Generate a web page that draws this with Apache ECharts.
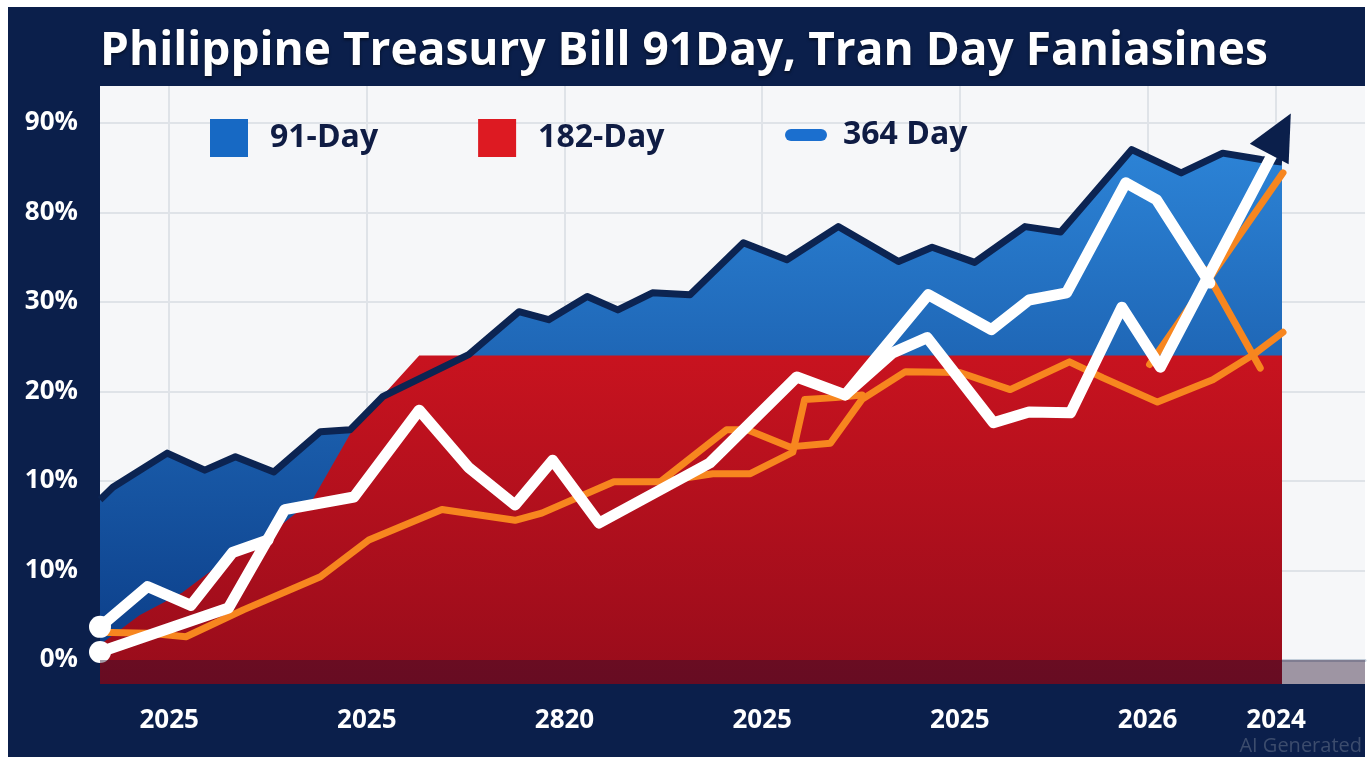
<!DOCTYPE html>
<html>
<head>
<meta charset="utf-8">
<title>Philippine Treasury Bill</title>
<script src="https://cdn.jsdelivr.net/npm/echarts@6/dist/echarts.min.js"></script>
<style>
html, body { margin: 0; padding: 0; background: #fff; }
#chart { width: 1368px; height: 768px; }
</style>
</head>
<body>
<div id="chart"></div>
<script>
// tick labels exactly as printed on the picture
var yTicks = [0, 10, 20, 30, 40, 50, 60];
var yLabels = ['0%', '10%', '10%', '20%', '30%', '80%', '90%'];
var xTicks = [7, 27, 47, 67, 87, 106, 119];
var xLabels = ['2025', '2025', '2820', '2025', '2025', '2026', '2024'];

// [month, value]
var day91 = [[0,17.9],[1.3,19.3],[6.8,23.1],[10.6,21.2],[13.7,22.7],[17.6,21.0],[22.3,25.5],[25.3,25.7],[28.6,29.4],[37.3,34.1],[42.4,38.9],[45.4,38.0],[49.3,40.6],[52.4,39.1],[55.9,41.0],[59.7,40.8],[65.1,46.6],[69.5,44.7],[74.7,48.4],[80.8,44.5],[84.2,46.1],[88.5,44.4],[93.6,48.4],[97.2,47.8],[104.4,57.0],[109.4,54.4],[113.6,56.6],[117.5,55.9],[119.6,55.6]];
var day182 = [[0,1.7],[4.0,5.0],[8.3,7.5],[13.7,12.0],[16.8,13.7],[21.5,17.9],[25.7,26.0],[32.3,34.0],[119.6,34.0]];
var orangeA = [[0,3.1],[4.8,3.0],[8.7,2.6],[14.5,5.6],[22.3,9.3],[27.2,13.4],[34.6,16.8],[42.0,15.6],[44.7,16.4],[52.0,19.9],[56.7,19.9],[63.4,25.7],[65.5,25.7],[69.8,23.8],[73.9,24.2],[77.1,29.1],[81.5,32.2],[87.0,32.1],[92.1,30.2],[98.1,33.3],[101.5,31.5],[107.0,28.8],[112.6,31.3],[116.7,34.1],[119.7,36.6]];
var orangeB = [[56.7,19.9],[62.0,20.8],[65.8,20.8],[70.1,23.2],[71.3,29.1],[74.4,29.3],[77.1,29.6]];
var orangeC = [[106.2,33.0],[119.7,54.4]];
var orangeD = [[111.8,43.6],[117.4,32.6]];
var white1 = [[0,3.7],[4.8,8.2],[9.2,6.1],[13.4,12.0],[17.0,13.4]];
var day364 = [[0,0.9],[13.0,5.8],[18.7,16.8],[25.7,18.2],[32.3,27.9],[37.3,21.5],[42.0,17.3],[45.8,22.3],[50.5,15.3],[61.7,22.0],[70.5,31.6],[75.4,29.6],[80.2,34.3],[83.7,36.0],[90.4,26.5],[94.0,27.7],[98.2,27.6],[103.4,39.4],[107.3,32.7],[119.4,58.1]];
var white3 = [[75.4,29.6],[83.8,40.8],[90.2,36.9],[94.0,40.2],[97.8,41.0],[103.8,53.3],[106.9,51.4],[112.3,42.1]];

var navy = '#0b1f4b';
var font = 'Open Sans';

function startDot(arr) {
    return arr.map(function (p, i) {
        return i === 0 ? {value: p, symbol: 'circle', symbolSize: 22, itemStyle: {color: '#fff'}} : p;
    });
}

var whiteData = startDot(day364);
whiteData[whiteData.length - 1] = {
    value: day364[day364.length - 1],
    symbol: 'triangle',
    symbolSize: [44, 46],
    symbolRotate: -28,
    symbolOffset: [0, -6],
    itemStyle: {color: navy}
};

function orangeLine(name, data) {
    return {
        name: name, type: 'line', data: data, symbol: 'none',
        lineStyle: {color: '#f7861f', width: 7, join: 'round', cap: 'round'}
    };
}

function whiteLine(name, data) {
    return {
        name: name, type: 'line', data: data, symbol: 'none', showSymbol: true,
        lineStyle: {color: '#ffffff', width: 11, join: 'round', cap: 'round'}
    };
}

var myChart = echarts.init(document.getElementById('chart'));
var option = {
    animation: false,
    backgroundColor: '#ffffff',
    title: {
        text: 'Philippine Treasury Bill 91Day, Tran Day Faniasines',
        left: 'center',
        top: 24,
        textStyle: {
            color: '#ffffff', fontFamily: font, fontWeight: 'bold', fontSize: 46,
            textShadowColor: 'rgba(0,0,0,0.5)', textShadowBlur: 3, textShadowOffsetY: 2
        }
    },
    graphic: [
        {type: 'rect', z: -100, shape: {x: 8, y: 7, width: 1357, height: 750}, style: {fill: navy}},
        {type: 'text', z: 100, right: 6, bottom: 12, style: {text: 'AI Generated', fill: 'rgba(120,130,150,0.45)', fontSize: 20, fontFamily: font}}
    ],
    legend: [
        {
            left: 205, top: 114, itemWidth: 38, itemHeight: 38, itemGap: 100,
            textStyle: {color: '#0f1c44', fontSize: 32, fontFamily: font, fontWeight: 'bold', padding: [0, 0, 0, 17]},
            data: [
                {name: '91-Day', icon: 'rect', itemStyle: {color: '#1769c4', borderWidth: 0}},
                {name: '182-Day', icon: 'rect', itemStyle: {color: '#dd1a22', borderWidth: 0}}
            ]
        },
        {
            left: 780, top: 114, itemWidth: 42, itemHeight: 12,
            textStyle: {color: '#0f1c44', fontSize: 32, fontFamily: font, fontWeight: 'bold', padding: [0, 0, 0, 11]},
            data: [
                {name: '364 Day', icon: 'path://M6,0 L36,0 A6,6 0 0 1 36,12 L6,12 A6,6 0 0 1 6,0 Z', itemStyle: {color: '#1b6fcf', borderWidth: 0}}
            ]
        }
    ],
    grid: {
        left: 100, right: 3, top: 86, bottom: 84,
        show: true, backgroundColor: '#f6f7f9', borderWidth: 0
    },
    xAxis: {
        type: 'value', min: 0, max: 128,
        axisLine: {show: true, lineStyle: {color: '#c3ceda', width: 3}},
        axisTick: {show: true, customValues: xTicks, length: 12, lineStyle: {color: '#b8c4d0', width: 2}},
        axisLabel: {
            customValues: xTicks, margin: 24, color: '#ffffff', fontSize: 26, fontWeight: 'bold', fontFamily: font,
            formatter: function (v) { return xLabels[xTicks.indexOf(v)]; }
        },
        splitLine: {show: true, lineStyle: {color: '#dfe3e8', width: 2}}
    },
    yAxis: {
        type: 'value', min: -2.68, max: 64.1,
        axisLine: {show: false},
        axisTick: {show: false, customValues: yTicks},
        axisLabel: {
            customValues: yTicks, margin: 22, color: '#ffffff', fontSize: 26, fontWeight: 'bold', fontFamily: font,
            formatter: function (v) { return yLabels[yTicks.indexOf(v)]; }
        },
        splitLine: {show: true, lineStyle: {color: '#dfe3e8', width: 2}}
    },
    series: [
        {
            name: '91-Day', type: 'line', data: day91, symbol: 'none',
            lineStyle: {color: '#0c2452', width: 7, join: 'round'},
            areaStyle: {
                origin: 'start',
                opacity: 1,
                color: new echarts.graphic.LinearGradient(0, 0, 0, 1, [
                    {offset: 0, color: '#2c83d6'},
                    {offset: 1, color: '#0a3a84'}
                ])
            }
        },
        {
            name: '182-Day', type: 'line', data: day182, symbol: 'none',
            lineStyle: {width: 0},
            areaStyle: {
                origin: 'start',
                opacity: 1,
                color: new echarts.graphic.LinearGradient(0, 0, 0, 1, [
                    {offset: 0, color: '#c8131f'},
                    {offset: 1, color: '#980c1b'}
                ])
            }
        },
        orangeLine('orangeA', orangeA),
        orangeLine('orangeB', orangeB),
        orangeLine('orangeC', orangeC),
        orangeLine('orangeD', orangeD),
        whiteLine('white1', startDot(white1)),
        whiteLine('white3', white3),
        whiteLine('364 Day', whiteData)
    ]
};
myChart.setOption(option);

// dark strip below the zero line, placed through the axes
var p0 = myChart.convertToPixel({gridIndex: 0}, [0, 0]);
var p1 = myChart.convertToPixel({gridIndex: 0}, [128, -2.68]);
myChart.setOption({
    graphic: [
        {},
        {},
        {type: 'rect', z: 50, shape: {x: p0[0], y: p0[1], width: p1[0] - p0[0], height: p1[1] - p0[1]}, style: {fill: 'rgba(35,15,45,0.42)'}}
    ]
});
</script>
</body>
</html>
